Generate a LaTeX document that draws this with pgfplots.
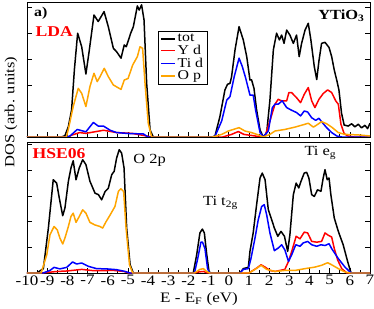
\documentclass[border=0pt]{standalone}
\usepackage{fontspec}
\setmainfont[FakeStretch=1.18]{Liberation Serif}
\usepackage{pgfplots}
\pgfplotsset{compat=1.18}
\definecolor{myorange}{RGB}{255,165,0}
\definecolor{myred}{RGB}{255,0,0}
\definecolor{myblue}{RGB}{0,0,255}
\pgfplotsset{
  dosax/.style={
    scale only axis, width=343bp, xmin=-10, xmax=7, ymin=0,
    xtick={-10,-9,...,7}, minor x tick num=1,
    ytick={0,1,2,3,4,5}, yticklabels={},
    xtick pos=left, ytick pos=both,
    tick align=inside, major tick length=5bp, minor tick length=3bp,
    every tick/.style={black, line width=0.6pt},
    axis line style={line width=0.7pt},
    /pgf/number format/assume math mode=true,
    tick label style={font=\fontsize{14.5}{15}\selectfont},
    xticklabel style={yshift=1bp},
    every axis plot/.append style={line width=1.5pt, line join=round},
  }
}
\begin{document}
\begin{tikzpicture}
\useasboundingbox (-27bp,-36bp) rectangle (347bp,273bp);
% ---------------- top panel (LDA)
\begin{axis}[dosax, at={(0bp,136bp)}, anchor=south west, height=135bp, ymax=5.19,
  xticklabels={},
  legend style={at={(axis description cs:0.382,0.785)}, anchor=north west,
    draw=black, font=\fontsize{13.5}{13.5}\selectfont, inner sep=2bp, row sep=0bp,
    nodes={inner ysep=1bp, inner xsep=2bp},
    cells={anchor=west}},
  legend image code/.code={\draw[#1, line width=1.5pt] (0bp,0bp) -- (14bp,0bp);},
]
\addplot[black] coordinates {
(-10,0) (-8.3,0) (-8.12,0.05) (-7.95,0.4) (-7.79,1.04) (-7.65,2.6) (-7.49,3.99) (-7.29,3.47)
(-7.08,2.42) (-6.91,3.35) (-6.68,4.69) (-6.47,4.44) (-6.18,4.82) (-5.97,4.24) (-5.72,3.41)
(-5.56,3.28) (-5.34,3.03) (-5.18,3.54) (-5.08,3.47) (-4.86,3.99) (-4.73,4.24) (-4.53,5.04)
(-4.44,4.88) (-4.32,5.08) (-4.20,4.5) (-4.07,2.07) (-3.90,0.27) (-3.74,0) (-0.8,0)
(-0.68,0.05) (-0.44,0.78) (-0.19,1.81) (-0.06,2.03) (0.06,2.06) (0.14,2.32) (0.31,3.35)
(0.51,4.24) (0.72,3.73) (0.89,3.09) (1.05,2.19) (1.13,2.2) (1.25,1.87) (1.38,1.04)
(1.55,0.27) (1.71,0) (1.88,0.17) (2.04,1.42) (2.21,3.35) (2.37,3.99) (2.51,3.73)
(2.62,3.92) (2.74,3.6) (2.87,4.11) (3.03,3.92) (3.20,3.6) (3.36,3.92) (3.49,3.09)
(3.61,3.6) (3.78,4.11) (3.94,4.37) (4.07,3.73) (4.24,2.7) (4.36,2.21) (4.47,2.93)
(4.60,3.6) (4.77,3.64) (4.97,3.44) (5.10,3.09) (5.23,2.57) (5.35,2.19) (5.46,1.81)
(5.59,0.91) (5.72,0.46) (5.92,0.42) (6.09,0.51) (6.25,0.39) (6.42,0.49) (6.58,0.35)
(6.75,0.45) (6.88,0.32) (7.0,0.53)};
\addlegendentry{tot}
\addplot[myred] coordinates {
(-10,0) (-7.95,0) (-7.79,0.07) (-7.4,0.17) (-7.08,0.14) (-6.2,0.26) (-5.56,0.17) (-4.8,0.14)
(-4.08,0.04) (-3.85,0) (-0.3,0) (0.14,0.1) (0.47,0.21) (0.75,0.1) (1.3,0.04) (1.55,0)
(1.8,0.04) (2.04,0.62) (2.29,1.26) (2.45,1.45) (2.62,1.39) (2.87,1.39) (2.98,1.71)
(3.11,1.71) (3.36,1.51) (3.56,1.32) (3.74,1.64) (3.94,1.9) (4.11,1.39) (4.27,1.13)
(4.47,1.45) (4.68,1.67) (4.90,1.81) (5.10,1.71) (5.30,1.39) (5.43,1.26) (5.56,0.49)
(5.72,0.13) (5.9,0.04) (6.2,0) (7,0)};
\addlegendentry{Y d}
\addplot[myblue] coordinates {
(-10,0) (-8.0,0) (-7.85,0.05) (-7.51,0.29) (-7.08,0.2) (-6.71,0.56) (-6.47,0.42) (-6.21,0.42)
(-5.88,0.26) (-5.56,0.17) (-4.9,0.13) (-4.24,0.12) (-4.0,0) (-0.8,0) (-0.68,0.03)
(-0.35,0.62) (-0.10,1.42) (0.06,1.55) (0.27,2.32) (0.51,3.03) (0.67,2.71) (0.84,2.26)
(1.05,1.61) (1.21,1.61) (1.33,1.04) (1.55,0.17) (1.71,0) (1.96,0.23) (2.16,1.13)
(2.29,1.26) (2.45,1.26) (2.65,1.39) (2.87,1.13) (3.11,1.03) (3.36,0.94) (3.56,0.81)
(3.74,1.0) (3.91,0.96) (4.11,0.74) (4.31,0.64) (4.47,0.72) (4.64,0.55) (4.85,0.36)
(5.10,0.17) (5.35,0.04) (5.6,0) (7,0)};
\addlegendentry{Ti d}
\addplot[myorange] coordinates {
(-10,0) (-8.05,0) (-7.95,0.3) (-7.71,1.17) (-7.46,1.87) (-7.29,1.68) (-7.08,1.17) (-6.88,1.94)
(-6.68,2.45) (-6.52,2.13) (-6.38,2.32) (-6.17,2.64) (-5.97,2.32) (-5.72,2.0) (-5.34,1.83)
(-5.18,2.19) (-4.99,2.25) (-4.76,2.77) (-4.53,3.09) (-4.40,3.47) (-4.27,3.41) (-4.15,2.06)
(-3.99,0.53) (-3.82,0) (-0.8,0) (-0.35,0.1) (-0.02,0.23) (0.51,0.36) (0.8,0.23) (1.13,0.17)
(1.4,0.1) (1.71,0) (2.04,0.1) (2.29,0.23) (2.78,0.29) (3.28,0.38) (3.78,0.49) (3.94,0.53)
(4.19,0.38) (4.36,0.46) (4.60,0.59) (4.85,0.51) (5.10,0.38) (5.43,0.17) (5.76,0.1)
(6.42,0.08) (7.0,0.04)};
\addlegendentry{O p}
\node[anchor=west, font=\fontsize{13.5}{14}\selectfont\bfseries] at (axis cs:-9.82,4.76) {a)};
\node[anchor=west, text=myred, font=\fontsize{15}{15}\selectfont\bfseries] at (axis cs:-9.75,4.06) {LDA};
\node[anchor=east, font=\fontsize{14}{14}\selectfont\bfseries] at (axis cs:6.9,4.66) {YTiO\textsubscript{3}};
\end{axis}
% ---------------- bottom panel (HSE06)
\begin{axis}[dosax, at={(0bp,0bp)}, anchor=south west, height=131bp, ymax=5.1]
\addplot[black] coordinates {
(-10,0) (-9.52,0) (-9.19,0.17) (-8.94,1.75) (-8.70,3.63) (-8.53,3.5) (-8.40,2.92) (-8.23,2.23)
(-8.12,2.53) (-7.95,3.57) (-7.82,4.09) (-7.71,4.37) (-7.57,3.63) (-7.41,4.09) (-7.24,4.41)
(-7.08,4.22) (-6.88,3.57) (-6.63,3.11) (-6.46,3.05) (-6.30,2.85) (-6.13,3.17) (-5.97,3.3)
(-5.80,3.83) (-5.68,3.96) (-5.56,4.47) (-5.43,4.8) (-5.31,4.67) (-5.19,4.09) (-5.06,1.75)
(-4.89,0.32) (-4.73,0) (-1.76,0) (-1.59,0.71) (-1.43,1.56) (-1.31,1.71) (-1.21,1.56)
(-1.09,0.71) (-0.98,0.06) (-0.9,0) (0.56,0) (0.72,0.17) (0.97,0.22) (1.05,0.84) (1.21,1.56)
(1.38,2.66) (1.55,3.7) (1.66,3.89) (1.80,3.63) (1.96,2.46) (2.10,2.14) (2.26,1.75)
(2.43,1.43) (2.59,1.62) (2.76,1.43) (2.92,0.84) (3.03,1.49) (3.20,3.05) (3.34,3.5)
(3.47,3.31) (3.58,3.57) (3.74,3.89) (3.86,3.92) (3.97,3.7) (4.11,3.05) (4.24,2.98)
(4.40,3.24) (4.57,3.18) (4.68,3.7) (4.77,4.02) (4.88,3.63) (4.97,3.7) (5.06,3.05)
(5.23,2.14) (5.43,1.62) (5.67,1.1) (5.89,0.45) (6.06,0) (7,0)};
\addplot[myred] coordinates {
(-10,0) (-9.3,0) (-8.5,0.06) (-8.0,0.08) (-7.29,0.14) (-6.7,0.09) (-5.7,0.1) (-5.2,0.06)
(-4.95,0) (-1.7,0) (-1.5,0.04) (-1.25,0.06) (-1.05,0) (1.0,0) (1.38,0.19) (1.60,0.32)
(1.8,0.23) (2.04,0.1) (2.3,0.06) (2.78,0.14) (2.96,0.45) (3.12,0.84) (3.34,1.43)
(3.53,1.33) (3.74,1.59) (3.91,1.56) (4.11,1.23) (4.36,1.2) (4.6,1.23) (4.77,1.56)
(4.93,1.47) (5.10,1.4) (5.23,0.95) (5.40,0.5) (5.6,0.17) (5.85,0) (7,0)};
\addplot[myblue] coordinates {
(-10,0) (-9.2,0) (-8.86,0.1) (-8.66,0.22) (-8.37,0.16) (-8.03,0.22) (-7.74,0.43) (-7.54,0.35)
(-7.29,0.39) (-6.96,0.26) (-6.55,0.17) (-6.05,0.16) (-5.56,0.13) (-5.14,0.06) (-4.9,0)
(-1.7,0) (-1.54,0.56) (-1.38,1.2) (-1.3,1.2) (-1.18,0.95) (-1.05,0.17) (-0.95,0) (0.56,0)
(0.72,0.14) (0.97,0.17) (1.10,0.56) (1.30,1.36) (1.46,2.07) (1.63,2.59) (1.76,2.66)
(1.88,2.26) (2.04,1.56) (2.26,0.87) (2.45,0.97) (2.62,1.1) (2.78,0.9) (2.96,0.45)
(3.12,0.71) (3.32,1.1) (3.53,1.04) (3.69,1.17) (3.91,1.23) (4.11,1.1) (4.36,1.04)
(4.57,1.1) (4.77,1.07) (4.97,1.14) (5.10,0.95) (5.43,0.56) (5.76,0.23) (6.01,0.04)
(6.1,0) (7,0)};
\addplot[myorange] coordinates {
(-10,0) (-9.3,0) (-9.02,0.71) (-8.86,1.49) (-8.66,1.81) (-8.50,1.68) (-8.37,1.36) (-8.23,1.13)
(-8.12,1.36) (-7.95,1.81) (-7.82,2.2) (-7.71,2.33) (-7.57,1.97) (-7.41,2.2) (-7.24,2.46)
(-7.08,2.33) (-6.88,1.97) (-6.63,1.87) (-6.38,1.81) (-6.25,1.75) (-6.08,2.0) (-5.88,2.26)
(-5.64,2.59) (-5.47,3.18) (-5.35,3.28) (-5.21,3.17) (-5.09,1.75) (-4.92,0.32) (-4.76,0)
(-1.7,0) (-1.43,0.14) (-1.26,0.17) (-1.1,0.06) (-0.95,0) (1.0,0) (1.30,0.14) (1.6,0.3)
(1.88,0.14) (2.3,0.06) (2.78,0.1) (3.28,0.1) (3.78,0.17) (4.27,0.23) (4.60,0.3) (4.90,0.4)
(5.10,0.32) (5.43,0.17) (5.76,0.04) (6.0,0) (7,0)};
\node[anchor=west, text=myred, font=\fontsize{15}{15}\selectfont\bfseries] at (axis cs:-9.9,4.64) {HSE06};
\node[anchor=west, font=\fontsize{14}{14}\selectfont] at (axis cs:-4.9,4.38) {O 2p};
\node[anchor=west, font=\fontsize{14}{14}\selectfont] at (axis cs:-1.45,2.73) {Ti t\textsubscript{2g}};
\node[anchor=west, font=\fontsize{14}{14}\selectfont] at (axis cs:3.58,4.67) {Ti e\textsubscript{g}};
\end{axis}
\node[rotate=90, font=\fontsize{14}{14}\selectfont] at (-16bp,161bp) {DOS (arb. units)};
\node[anchor=base, font=\fontsize{14.5}{15}\selectfont] at (172bp,-29bp) {E - E\textsubscript{F} (eV)};
\end{tikzpicture}
\end{document}
